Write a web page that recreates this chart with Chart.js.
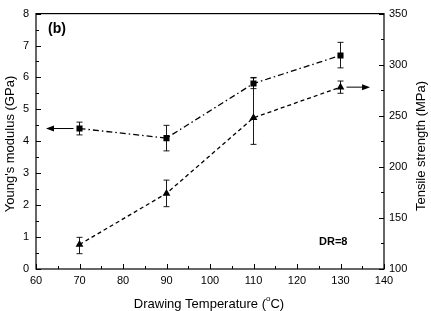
<!DOCTYPE html>
<html><head><meta charset="utf-8">
<script src="https://cdn.jsdelivr.net/npm/chart.js@4.4.1/dist/chart.umd.min.js"></script>
<style>html,body{margin:0;padding:0;background:#fff}#wrap{width:431px;height:311px}</style>
</head><body><div id="wrap"><canvas id="c" width="431" height="311"></canvas></div>
<script>
const temps = [70, 90, 110, 130];
const modulus = [4.4, 4.1, 5.81, 6.69];
const modulusLow = [4.2, 3.7, 5.65, 6.3];
const modulusHigh = [4.6, 4.5, 6.0, 7.1];
const strength = [124, 174, 248, 278];
const strengthLow = [115, 161, 222, 272];
const strengthHigh = [131, 187, 287, 284];
const xTicks = [60, 70, 80, 90, 100, 110, 120, 130, 140];
const yTicks = [0, 1, 2, 3, 4, 5, 6, 7, 8];
const y2Ticks = [100, 150, 200, 250, 300, 350];
const arrowLeft = {fromX: 70, toX: 62.3, y: 4.4};
const arrowRight = {fromX: 130, toX: 136.8, y: 278};
const FONT = "'Liberation Sans', Arial, sans-serif";

const extras = {
  id: 'extras',
  afterDatasetsDraw(chart) {
    const ctx = chart.ctx, a = chart.chartArea;
    const x = chart.scales.x, y = chart.scales.y, y2 = chart.scales.y2;
    ctx.save();
    ctx.strokeStyle = '#000'; ctx.fillStyle = '#000';
    // frame
    ctx.lineWidth = 1.2;
    ctx.strokeRect(a.left, a.top, a.right - a.left, a.bottom - a.top);
    // ticks inward
    ctx.lineWidth = 1;
    ctx.beginPath();
    for (let v = 60; v <= 140; v += 5) {
      const px = Math.round(x.getPixelForValue(v)) + 0.5;
      const len = v % 10 === 0 ? 5 : 3;
      ctx.moveTo(px, a.bottom); ctx.lineTo(px, a.bottom - len);
    }
    for (let v = 0; v <= 8; v += 0.5) {
      const py = Math.round(y.getPixelForValue(v)) + 0.5;
      const len = v % 1 === 0 ? 5 : 3;
      ctx.moveTo(a.left, py); ctx.lineTo(a.left + len, py);
    }
    for (let v = 100; v <= 350; v += 25) {
      const py = Math.round(y2.getPixelForValue(v)) + 0.5;
      const len = v % 50 === 0 ? 5 : 3;
      ctx.moveTo(a.right, py); ctx.lineTo(a.right - len, py);
    }
    ctx.stroke();
    // error bars
    ctx.lineWidth = 0.9;
    const eb = (sx, sy, xv, lo, hi) => {
      const px = sx.getPixelForValue(xv);
      const pl = sy.getPixelForValue(lo), ph = sy.getPixelForValue(hi);
      ctx.beginPath();
      ctx.moveTo(px, pl); ctx.lineTo(px, ph);
      ctx.moveTo(px - 3, pl); ctx.lineTo(px + 3, pl);
      ctx.moveTo(px - 3, ph); ctx.lineTo(px + 3, ph);
      ctx.stroke();
    };
    temps.forEach((t, i) => {
      eb(x, y, t, modulusLow[i], modulusHigh[i]);
      eb(x, y2, t, strengthLow[i], strengthHigh[i]);
    });
    // arrows
    const arrow = (sy, ar, dir) => {
      const x0 = x.getPixelForValue(ar.fromX) + dir * 6;
      const x1 = x.getPixelForValue(ar.toX);
      const py = sy.getPixelForValue(ar.y);
      ctx.lineWidth = 1;
      ctx.beginPath(); ctx.moveTo(x0, py); ctx.lineTo(x1 - dir * 6, py); ctx.stroke();
      ctx.beginPath(); ctx.moveTo(x1, py); ctx.lineTo(x1 - dir * 8, py - 3); ctx.lineTo(x1 - dir * 8, py + 3); ctx.closePath(); ctx.fill();
    };
    arrow(y, arrowLeft, -1);
    arrow(y2, arrowRight, 1);
    // annotations
    ctx.textBaseline = 'middle'; ctx.textAlign = 'left';
    ctx.font = 'bold 14px ' + FONT;
    ctx.fillText('(b)', 48, 29);
    ctx.font = 'bold 11px ' + FONT;
    ctx.fillText('DR=8', 319, 242);
    // axis titles
    const TF = '13px ' + FONT;
    ctx.font = TF;
    const tx = 'Drawing Temperature (';
    const w1 = ctx.measureText(tx).width;
    ctx.font = '8px ' + FONT;
    const wo = ctx.measureText('o').width;
    ctx.font = TF;
    const w2 = ctx.measureText('C)').width;
    const total = w1 + wo + w2;
    let sx0 = 209 - total / 2;
    ctx.textAlign = 'left';
    ctx.fillText(tx, sx0, 304);
    ctx.font = '8px ' + FONT;
    ctx.fillText('o', sx0 + w1, 299);
    ctx.font = TF;
    ctx.fillText('C)', sx0 + w1 + wo, 304);
    ctx.textAlign = 'center';
    ctx.save(); ctx.translate(10, 144); ctx.rotate(-Math.PI / 2);
    ctx.fillText("Young's modulus (GPa)", 0, 0); ctx.restore();
    ctx.save(); ctx.translate(421, 146); ctx.rotate(-Math.PI / 2);
    ctx.fillText('Tensile strength (MPa)', 0, 0); ctx.restore();
    ctx.restore();
  }
};

new Chart(document.getElementById('c'), {
  type: 'line',
  data: {
    datasets: [
      {
        label: 'modulus', yAxisID: 'y',
        data: temps.map((t, i) => ({x: t, y: modulus[i]})),
        borderColor: '#000', backgroundColor: '#000', borderWidth: 1.3,
        borderDash: [6, 3, 1.5, 3], pointStyle: 'rect', pointRadius: 4.3,
        pointBorderWidth: 0, tension: 0
      },
      {
        label: 'strength', yAxisID: 'y2',
        data: temps.map((t, i) => ({x: t, y: strength[i]})),
        borderColor: '#000', backgroundColor: '#000', borderWidth: 1.3,
        borderDash: [4, 3], pointStyle: 'triangle', pointRadius: 4.5,
        pointBorderWidth: 0, tension: 0
      }
    ]
  },
  options: {
    responsive: false, animation: false, events: [],
    layout: {padding: {top: 11, left: 0, right: 0, bottom: 0}},
    plugins: {legend: {display: false}, tooltip: {enabled: false}},
    scales: {
      x: {
        type: 'linear', min: 60, max: 140,
        afterBuildTicks: s => { s.ticks = xTicks.map(v => ({value: v})); },
        afterFit: s => { s.height = 42; },
        grid: {display: false, drawTicks: false},
        border: {display: false},
        ticks: {color: '#000', font: {family: FONT, size: 11}, padding: 5, maxRotation: 0}
      },
      y: {
        type: 'linear', position: 'left', min: 0, max: 8,
        afterBuildTicks: s => { s.ticks = yTicks.map(v => ({value: v})); },
        afterFit: s => { s.width = 36; },
        grid: {display: false, drawTicks: false},
        border: {display: false},
        ticks: {color: '#000', font: {family: FONT, size: 11}, padding: 7}
      },
      y2: {
        type: 'linear', position: 'right', min: 100, max: 350,
        afterBuildTicks: s => { s.ticks = y2Ticks.map(v => ({value: v})); },
        afterFit: s => { s.width = 47; },
        grid: {display: false, drawTicks: false},
        border: {display: false},
        ticks: {color: '#000', font: {family: FONT, size: 11}, padding: 5}
      }
    }
  },
  plugins: [extras]
});
</script></body></html>
